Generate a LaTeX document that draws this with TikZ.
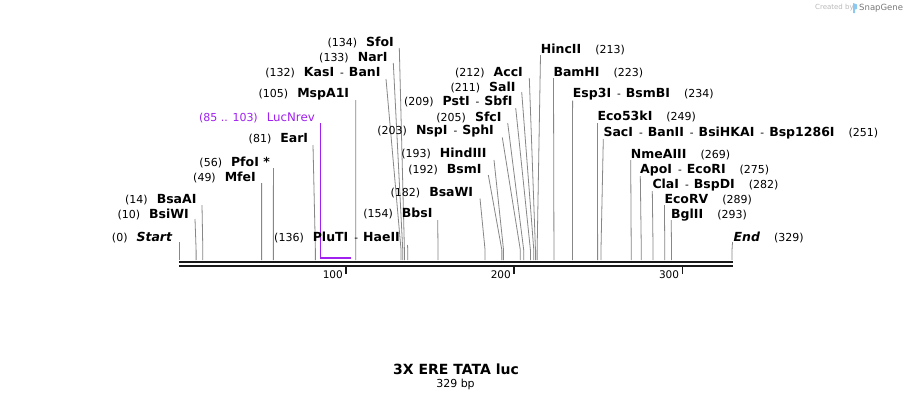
\documentclass[tikz,border=0pt]{standalone}
\usepackage{fontspec}
\setmainfont{DejaVu Sans}
\definecolor{cutgray}{RGB}{135,135,135}
\definecolor{lucpurple}{HTML}{A020F0}
\definecolor{wmlight}{RGB}{185,185,185}
\definecolor{wmdark}{RGB}{120,120,120}
\definecolor{wmblue}{RGB}{140,200,240}
\newcommand\pnum[1]{{\fontsize{11}{12}\selectfont(#1)}}
\newcommand\enz[1]{{\bfseries #1}}
\newcommand\dsh{\hspace{6pt}{\fontsize{10.5}{12}\selectfont-}\hspace{5pt}}
\newcommand\gapL{\hspace{9pt}}
\newcommand\gapR{\hspace{14pt}}
% id, top x, top y, site position (bp)
\newcommand\cutsite[4]{%
  \coordinate (t#1) at (#2,#3);
  \coordinate (s#1) at ({179.3+1.68*#4},260);
  \draw[cutline] (t#1) -- ([yshift=10pt]s#1) -- (s#1);
}
\tikzset{
  cutline/.style={draw=cutgray, line width=0.8pt},
  leftlab/.style={anchor=base east, inner sep=0pt, font=\fontsize{12.5}{14}\selectfont},
  rightlab/.style={anchor=base west, inner sep=0pt, font=\fontsize{12.5}{14}\selectfont},
  rulerline/.style={draw=black!90, line width=2.5pt},
  tickline/.style={draw=black!90, line width=1.5pt},
  ticklab/.style={anchor=east, inner sep=0pt, font=\fontsize{10.5}{12}\selectfont},
}
\begin{document}
\begin{tikzpicture}[x=1pt,y=-1pt]
\useasboundingbox[fill=white] (0,0) rectangle (912,400);

% watermark
\node[anchor=west, inner sep=0pt, text=wmlight, font=\fontsize{7}{8}\selectfont] (wm1) at (815,8) {Created by};
\fill[wmblue] (853,3) -- (857,4.5) -- (857,9) -- (855,9.5) -- (855,13) -- (853,13) -- cycle;
\node[anchor=west, inner sep=0pt, text=wmdark, font=\fontsize{8.5}{9}\selectfont] (wm2) at (859,8) {SnapGene};

% ruler
\coordinate (r0) at (179,262);
\coordinate (r1) at (732.7,262);
\coordinate (q0) at (179,266);
\coordinate (q1) at (732.7,266);
\draw[rulerline] (r0) -- (r1);
\draw[rulerline, line width=2.3pt] (q0) -- (q1);
\foreach \p/\x in {100/346,200/514,300/682.3}{
  \coordinate (k\p) at (\x,266);
  \coordinate (kk\p) at (\x,273.5);
  \draw[tickline] (k\p) -- (kk\p);
  \node[ticklab] (kl\p) at (\x-3,274.5) {\p};
}

% cut lines
\cutsite{start}{179.3}{242}{0}
\cutsite{bsiwi}{195}{219}{10}
\cutsite{bsaai}{202}{205}{14}
\cutsite{mfei}{261.6}{183}{49}
\cutsite{pfoi}{273.4}{168}{56}
\cutsite{eari}{313}{145}{81}
\cutsite{mspa}{355.7}{100}{105}
\cutsite{kasi}{386}{79}{132}
\cutsite{nari}{393.3}{63}{133}
\cutsite{sfoi}{399.3}{48}{134}
\cutsite{pluti}{407.5}{245}{136}
\cutsite{bbsi}{437.7}{220}{154}
\cutsite{bsawi}{480}{198.5}{182}
\cutsite{bsmi}{488.3}{175}{192}
\cutsite{hind}{494}{160}{193}
\cutsite{nspi}{502.3}{137.5}{203}
\cutsite{sfci}{507.7}{123}{205}
\cutsite{psti}{515.7}{108}{209}
\cutsite{sali}{521.7}{92}{211}
\cutsite{acci}{529.3}{78}{212}
\cutsite{hinc}{540.5}{55}{213}
\cutsite{bamhi}{553.5}{78}{223}
\cutsite{esp}{572.6}{100.5}{234}
\cutsite{eco53}{597.4}{123}{249}
\cutsite{saci}{603.3}{139}{251}
\cutsite{nme}{630.7}{160}{269}
\cutsite{apoi}{640.3}{176}{275}
\cutsite{clai}{652.3}{191}{282}
\cutsite{ecorv}{664.4}{205}{289}
\cutsite{bgl}{671.2}{220}{293}
\cutsite{end}{732.5}{242}{329}

% LucNrev primer
\coordinate (lt) at (320.3,123);
\coordinate (lb) at (320.3,257.8);
\coordinate (le) at (350.8,257.8);
\draw[draw=lucpurple, line width=1.1pt] (lt) -- (lb);
\draw[draw=lucpurple, line width=2pt] (lb) -- (le);

% left labels (anchored at their right end)
\node[leftlab] (Lstart) at (172.3,241.2) {\pnum{0}\gapL{\bfseries\itshape Start}};
\node[leftlab] (Lbsiwi) at (189,218.6) {\pnum{10}\gapL\enz{BsiWI}};
\node[leftlab] (Lbsaai) at (196.7,203.6) {\pnum{14}\gapL\enz{BsaAI}};
\node[leftlab] (Lmfei) at (256,181.3) {\pnum{49}\gapL\enz{MfeI}};
\node[leftlab] (Lpfoi) at (270,166.3) {\pnum{56}\gapL\enz{PfoI *}};
\node[leftlab] (Leari) at (308.3,142.9) {\pnum{81}\gapL\enz{EarI}};
\node[leftlab, text=lucpurple] (Lluc) at (315,121.9) {\pnum{85 .. 103}\gapL{\fontsize{11.8}{13}\selectfont LucNrev}};
\node[leftlab] (Lmspa) at (349.3,97.9) {\pnum{105}\gapL\enz{MspA1I}};
\node[leftlab] (Lkasi) at (380.7,76.3) {\pnum{132}\gapL\enz{KasI}\dsh\enz{BanI}};
\node[leftlab] (Lnari) at (387.7,61.3) {\pnum{133}\gapL\enz{NarI}};
\node[leftlab] (Lsfoi) at (394,46.6) {\pnum{134}\gapL\enz{SfoI}};
\node[leftlab] (Lpluti) at (400,241.2) {\pnum{136}\gapL\enz{PluTI}\dsh\enz{HaeII}};
\node[leftlab] (Lbbsi) at (432.7,217.9) {\pnum{154}\gapL\enz{BbsI}};
\node[leftlab] (Lbsawi) at (473.3,196.9) {\pnum{182}\gapL\enz{BsaWI}};
\node[leftlab] (Lbsmi) at (481.7,173.6) {\pnum{192}\gapL\enz{BsmI}};
\node[leftlab] (Lhind) at (486.7,157.9) {\pnum{193}\gapL\enz{HindIII}};
\node[leftlab] (Lnspi) at (494,134.6) {\pnum{203}\gapL\enz{NspI}\dsh\enz{SphI}};
\node[leftlab] (Lsfci) at (501.7,121.9) {\pnum{205}\gapL\enz{SfcI}};
\node[leftlab] (Lpsti) at (512.7,105.6) {\pnum{209}\gapL\enz{PstI}\dsh\enz{SbfI}};
\node[leftlab] (Lsali) at (515.7,91.3) {\pnum{211}\gapL\enz{SalI}};
\node[leftlab] (Lacci) at (523,76.6) {\pnum{212}\gapL\enz{AccI}};

% right labels (anchored at their left end)
\node[rightlab] (Rhinc) at (540.7,53.6) {\enz{HincII}\gapR\pnum{213}};
\node[rightlab] (Rbamhi) at (553.3,76.3) {\enz{BamHI}\gapR\pnum{223}};
\node[rightlab] (Resp) at (572.7,97.9) {\enz{Esp3I}\dsh\enz{BsmBI}\gapR\pnum{234}};
\node[rightlab] (Reco53) at (597.3,120.6) {\enz{Eco53kI}\gapR\pnum{249}};
\node[rightlab] (Rsaci) at (603.3,136.6) {\enz{SacI}\dsh\enz{BanII}\dsh\enz{BsiHKAI}\dsh\enz{Bsp1286I}\gapR\pnum{251}};
\node[rightlab] (Rnme) at (630.7,158.1) {\enz{NmeAIII}\gapR\pnum{269}};
\node[rightlab] (Rapoi) at (640,173.9) {\enz{ApoI}\dsh\enz{EcoRI}\gapR\pnum{275}};
\node[rightlab] (Rclai) at (652.3,188.6) {\enz{ClaI}\dsh\enz{BspDI}\gapR\pnum{282}};
\node[rightlab] (Recorv) at (664.3,203.9) {\enz{EcoRV}\gapR\pnum{289}};
\node[rightlab] (Rbgl) at (671,218.6) {\enz{BglII}\gapR\pnum{293}};
\node[rightlab] (Rend) at (733.5,241.9) {{\bfseries\itshape End}\gapR\pnum{329}};

% title
\node[inner sep=0pt, font=\fontsize{14}{16}\selectfont\bfseries] (title) at (456,369) {3X ERE TATA luc};
\node[inner sep=0pt, font=\fontsize{11}{13}\selectfont] (len) at (455.5,384) {329 bp};
\end{tikzpicture}
\end{document}
